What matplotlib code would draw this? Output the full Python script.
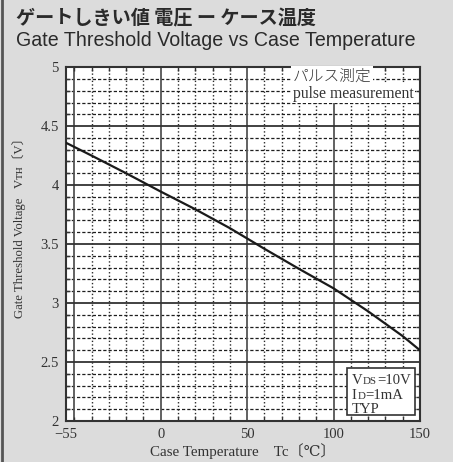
import matplotlib
matplotlib.use('Agg')
import matplotlib.pyplot as plt
from matplotlib.lines import Line2D
from matplotlib.patches import Rectangle
import numpy as np

# ---- data ----
temp = [-55, -40, -20, 0, 20, 40, 60, 80, 100, 120, 140, 150]
vth = [4.36, 4.25, 4.10, 3.945, 3.795, 3.635, 3.46, 3.29, 3.125, 2.93, 2.72, 2.60]
xticks = [-55, 0, 50, 100, 150]
xticklabels = ['\u221255', '0', '50', '100', '150']
yticks = [2, 2.5, 3, 3.5, 4, 4.5, 5]
yticklabels = ['2', '2.5', '3', '3.5', '4', '4.5', '5']
x_major_grid = [-50, 0, 50, 100]
x_minor_grid = [t for t in range(-40, 150, 10) if t % 50 != 0]
y_major_grid = [2.5, 3.0, 3.5, 4.0, 4.5]
y_minor_grid = [round(v, 1) for v in np.arange(2.1, 5.0, 0.1) if round(v * 10) % 5 != 0]
box_lines = [('V', 'DS', '=10V'), ('I', 'D', '=1mA'), ('TYP', '', '')]

serif = ['Liberation Serif', 'DejaVu Serif', 'Noto Sans CJK JP']
ink = '#333333'

fig = plt.figure(figsize=(4.53, 4.62), dpi=100)
fig.patch.set_facecolor('#dcdcdc')
ax = fig.add_axes([0.145, 0.0887, 0.782, 0.766])
ax.set_facecolor('white')
ax.set_xlim(-55, 150)
ax.set_ylim(2, 5)

for t in x_minor_grid:
    ax.axvline(t, color='#2a2a2a', lw=1.0, ls=(0, (1, 1.6)), zorder=1)
for v in y_minor_grid:
    ax.axhline(v, color='#1e1e1e', lw=0.9, ls=(0, (2.6, 1.6)), zorder=1)
for t in x_major_grid:
    ax.axvline(t, color='#555555', lw=1.3, zorder=1.5)
for v in y_major_grid:
    ax.axhline(v, color='#333333', lw=1.3, zorder=1.5)

ax.plot(temp, vth, color='#1a1a1a', lw=1.6, zorder=3)

for s in ax.spines.values():
    s.set_linewidth(1.5)
    s.set_color(ink)

ax.set_xticks(xticks)
ax.set_xticklabels(xticklabels, fontfamily=serif, fontsize=10.5, color=ink)
ax.set_yticks(yticks)
ax.set_yticklabels(yticklabels, fontfamily=serif, fontsize=10.5, color=ink)
ax.tick_params(axis='both', which='major', length=0, pad=5)
ax.set_xticks(x_minor_grid + x_major_grid, minor=True)
ax.set_yticks(y_minor_grid + y_major_grid, minor=True)
ax.tick_params(axis='both', which='minor', direction='in', length=3, width=1,
               top=True, right=True, color=ink)

ax.set_xlabel('Case Temperature\u3000Tc\u3014\u2103\u3015', fontfamily=serif,
              fontsize=10.8, color=ink)
ax.xaxis.set_label_coords(0.5, -0.062)
ax.set_ylabel('Gate Threshold Voltage   V\u1d1b\u029c\u3014V\u3015', fontfamily=serif,
              fontsize=9.2, color=ink)
ax.yaxis.set_label_coords(-0.112, 0.555)

# annotations
bb = dict(facecolor='white', edgecolor='none', pad=1)
ax.text(0.641, 0.975, '\u30d1\u30eb\u30b9\u6e2c\u5b9a', transform=ax.transAxes,
        fontfamily=['Noto Sans CJK JP'], fontweight='light', fontsize=11.3,
        va='center', ha='left', color=ink, bbox=bb, zorder=4)
ax.text(0.641, 0.925, 'pulse measurement', transform=ax.transAxes,
        fontfamily=serif, fontsize=11.3, va='center', ha='left', color=ink,
        bbox=bb, zorder=4)

ax.add_patch(Rectangle((0.794, 0.017), 0.192, 0.133, transform=ax.transAxes,
                       facecolor='white', edgecolor=ink, lw=1.2, zorder=4))
for i, (main, sub, rest) in enumerate(box_lines):
    t1 = ax.text(0.808, 0.114 - i * 0.041, main, transform=ax.transAxes, fontfamily=serif,
                 fontsize=10.6, va='center', ha='left', color=ink, zorder=5,
                 linespacing=1.0)
    if sub:
        t2 = ax.annotate(sub, xy=(1, 0), xycoords=t1, xytext=(0.3, 0.8),
                         textcoords='offset points', fontfamily=serif, fontsize=7.8,
                         va='bottom', ha='left', color=ink, zorder=5)
        ax.annotate(rest, xy=(1, 0), xycoords=t2, xytext=(0, -0.8),
                    textcoords='offset points', fontfamily=serif, fontsize=10.6,
                    va='bottom', ha='left', color=ink, zorder=5)

# title
fig.text(16 / 453, 1 - 19 / 462, '\u30b2\u30fc\u30c8\u3057\u304d\u3044\u5024 \u96fb\u5727 \u30fc \u30b1\u30fc\u30b9\u6e29\u5ea6',
         fontfamily=['Noto Sans CJK JP'], fontweight='bold', fontsize=13.8,
         va='center', ha='left', color='#2a2a2a')
fig.text(16 / 453, 1 - 40 / 462, 'Gate Threshold Voltage vs Case Temperature',
         fontfamily=['Liberation Sans'], fontsize=14.1, va='center', ha='left',
         color='#2a2a2a')

fig.add_artist(Line2D([0.0055, 0.0055], [0, 1], transform=fig.transFigure,
                      color='#555555', lw=2))

fig.savefig('out.png', dpi=100, facecolor=fig.get_facecolor())
